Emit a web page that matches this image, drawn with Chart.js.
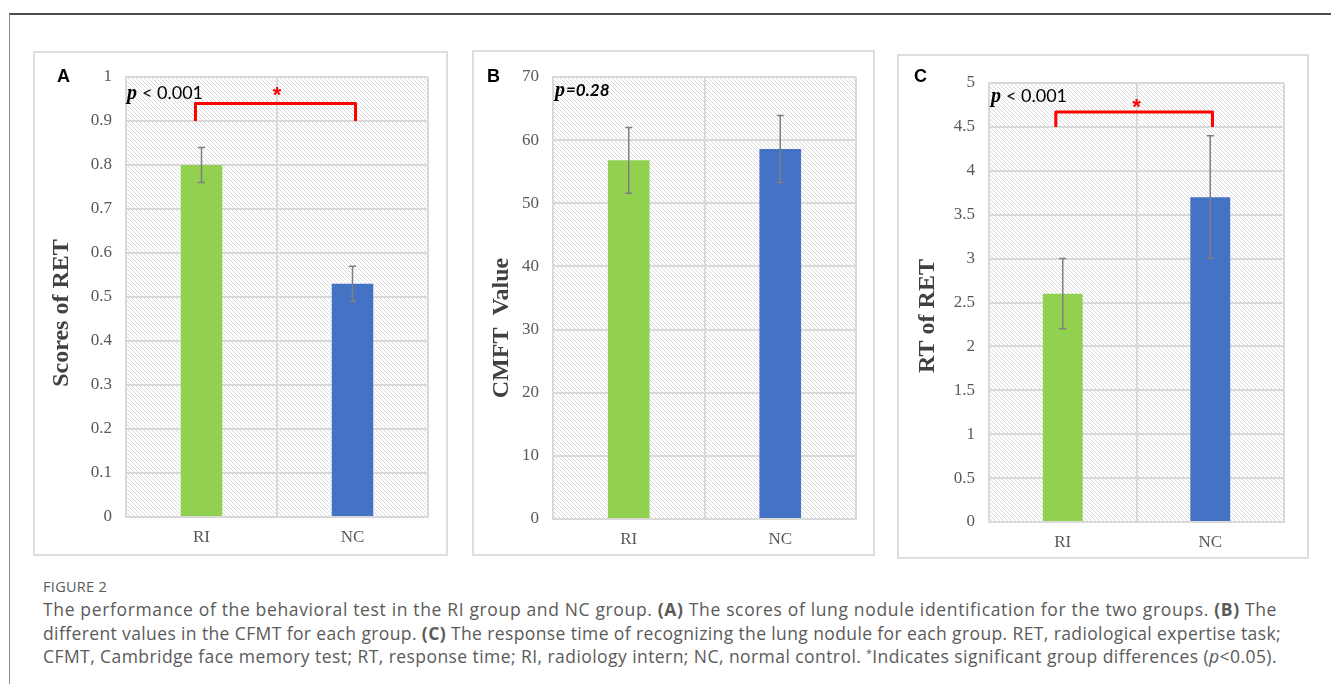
<!DOCTYPE html>
<html><head><meta charset="utf-8">
<script src="https://cdn.jsdelivr.net/npm/chart.js@4.4.1/dist/chart.umd.min.js"></script>
<style>
html,body{margin:0;padding:0;background:#fff;width:1331px;height:684px;overflow:hidden;position:relative;}
#frame{position:absolute;left:9px;top:13px;width:1400px;height:700px;border-top:2px solid #4d4d4d;border-left:1px solid #8a8a8a;}
.panel{position:absolute;}
.panel .box{position:absolute;left:0;top:0;right:0;bottom:0;border:2px solid #dedede;}
.panel canvas{position:absolute;left:0;top:0;}
.letter{position:absolute;font:bold 18px "Liberation Sans",Arial,sans-serif;color:#000;line-height:18px;}
.cap{position:absolute;left:43px;font-family:"Open Sans",sans-serif;color:#5a5a5a;white-space:nowrap;}
.cl{font-size:17.5px;line-height:23.5px;letter-spacing:0.5px;}
#fig{font-size:14.5px;line-height:18px;letter-spacing:0.3px;}
sup{font-size:10px;vertical-align:6px;line-height:0;}
</style></head>
<body>
<div id="frame"></div>

<div class="panel" id="pA" style="left:33px;top:51px;width:415px;height:505px;"><div class="box"></div><canvas id="cA" width="415" height="505"></canvas></div>
<div class="panel" id="pB" style="left:472px;top:50px;width:403px;height:506px;"><div class="box"></div><canvas id="cB" width="403" height="506"></canvas></div>
<div class="panel" id="pC" style="left:897px;top:54px;width:412px;height:505px;"><div class="box"></div><canvas id="cC" width="412" height="505"></canvas></div>

<div class="letter" style="left:57px;top:67px;">A</div>
<div class="letter" style="left:487px;top:67px;">B</div>
<div class="letter" style="left:914px;top:67px;">C</div>

<div class="cap" id="fig" style="top:578px;">FIGURE 2</div>
<div class="cap cl" data-w="1234" style="top:598px;">The performance of the behavioral test in the RI group and NC group. <b>(A)</b> The scores of lung nodule identification for the two groups. <b>(B)</b> The</div>
<div class="cap cl" data-w="1238" style="top:621.5px;">different values in the CFMT for each group. <b>(C)</b> The response time of recognizing the lung nodule for each group. RET, radiological expertise task;</div>
<div class="cap cl" data-w="1234" style="top:645px;">CFMT, Cambridge face memory test; RT, response time; RI, radiology intern; NC, normal control. <sup>*</sup>Indicates significant group differences (<i>p</i>&lt;0.05).</div>

<script>
// ---- data ----
const categories = ['RI', 'NC'];
const scoresRET = [0.80, 0.53];
const scoresRETErr = [0.04, 0.04];
const cmftValue = [56.8, 58.6];
const cmftErr = [5.2, 5.3];
const rtRET = [2.6, 3.7];
const rtRETErr = [0.4, 0.7];
const ticksA = [0, 0.1, 0.2, 0.3, 0.4, 0.5, 0.6, 0.7, 0.8, 0.9, 1];
const tickLabelsA = ['0', '0.1', '0.2', '0.3', '0.4', '0.5', '0.6', '0.7', '0.8', '0.9', '1'];
const ticksB = [0, 10, 20, 30, 40, 50, 60, 70];
const tickLabelsB = ['0', '10', '20', '30', '40', '50', '60', '70'];
const ticksC = [0, 0.5, 1, 1.5, 2, 2.5, 3, 3.5, 4, 4.5, 5];
const tickLabelsC = ['0', '0.5', '1', '1.5', '2', '2.5', '3', '3.5', '4', '4.5', '5'];
const yTitles = ['Scores of RET', 'CMFT  Value', 'RT of RET'];
const pTexts = [['p', '< 0.001'], ['p', '=0.28'], ['p', '< 0.001']];

// ---- fit caption line widths ----
document.querySelectorAll('.cl').forEach(el => {
  const target = +el.dataset.w;
  const n = el.textContent.length;
  const w = el.getBoundingClientRect().width;
  const ls = 0.5 + (target - w) / n;
  el.style.letterSpacing = ls.toFixed(3) + 'px';
});

// ---- style ----
const GRID = '#d9d9d9';
const TICK = '#595959';
const SERIF = '"Liberation Serif","Times New Roman",serif';
const BAR_COLORS = ['#92d050', '#4472c4'];

function makePattern() {
  const c = document.createElement('canvas');
  c.width = 4; c.height = 4;
  const g = c.getContext('2d');
  g.fillStyle = '#ffffff'; g.fillRect(0, 0, 4, 4);
  g.strokeStyle = '#dadada'; g.lineWidth = 1;
  g.beginPath(); g.moveTo(-1, -1); g.lineTo(5, 5); g.stroke();
  g.beginPath(); g.moveTo(-1, 3); g.lineTo(1, 5); g.stroke();
  g.beginPath(); g.moveTo(3, -1); g.lineTo(5, 1); g.stroke();
  return c;
}
const patCanvas = makePattern();

const hatchPlugin = {
  id: 'hatch',
  beforeDraw(chart) {
    const {ctx, chartArea: a} = chart;
    ctx.save();
    ctx.fillStyle = ctx.createPattern(patCanvas, 'repeat');
    ctx.fillRect(a.left, a.top, a.right - a.left, a.bottom - a.top);
    ctx.restore();
  }
};

const errPlugin = {
  id: 'err',
  afterDatasetsDraw(chart, args, opts) {
    const {ctx} = chart;
    const y = chart.scales.y;
    const meta = chart.getDatasetMeta(0);
    const vals = chart.data.datasets[0].data;
    ctx.save();
    ctx.strokeStyle = '#7f7f7f'; ctx.lineWidth = 1.5;
    meta.data.forEach((bar, i) => {
      const t = y.getPixelForValue(vals[i] + opts.err[i]);
      const b = y.getPixelForValue(vals[i] - opts.err[i]);
      ctx.beginPath();
      ctx.moveTo(bar.x, t); ctx.lineTo(bar.x, b);
      ctx.moveTo(bar.x - 3.5, t); ctx.lineTo(bar.x + 3.5, t);
      ctx.moveTo(bar.x - 3.5, b); ctx.lineTo(bar.x + 3.5, b);
      ctx.stroke();
    });
    ctx.restore();
  }
};

const annoPlugin = {
  id: 'anno',
  afterDraw(chart, args, o) {
    const {ctx} = chart;
    const xs = chart.scales.x, ys = chart.scales.y;
    ctx.save();
    // y title
    ctx.translate(o.titleX, o.titleY);
    ctx.rotate(-Math.PI / 2);
    ctx.fillStyle = '#404040';
    ctx.font = 'bold 24px ' + SERIF;
    ctx.textAlign = 'center'; ctx.textBaseline = 'middle';
    ctx.fillText(o.title, 0, 0);
    ctx.restore();
    // p value
    ctx.save();
    ctx.fillStyle = '#000';
    ctx.textBaseline = 'alphabetic'; ctx.textAlign = 'left';
    ctx.font = 'italic bold 20px ' + SERIF;
    ctx.fillText(o.p[0], o.pX, o.pY);
    ctx.font = (o.pItalic ? 'italic bold ' : '') + o.pSize + 'px Lato, "Open Sans", sans-serif';
    ctx.fillText(o.p[1], o.pX + o.pGap, o.pY);
    ctx.restore();
    // bracket
    if (o.bracket) {
      const br = o.bracket;
      const x0 = xs.getPixelForValue(br.from), x1 = xs.getPixelForValue(br.to);
      const yt = ys.getPixelForValue(br.top), yb = ys.getPixelForValue(br.bottom);
      ctx.save();
      ctx.strokeStyle = '#ff0000'; ctx.lineWidth = 3; ctx.lineJoin = 'round'; ctx.lineCap = 'butt';
      ctx.beginPath();
      ctx.moveTo(x0, yb); ctx.lineTo(x0, yt); ctx.lineTo(x1, yt); ctx.lineTo(x1, yb);
      ctx.stroke();
      // asterisk
      ctx.fillStyle = '#ff0000';
      ctx.font = 'bold 22px "Liberation Sans", Arial, sans-serif';
      const m = ctx.measureText('*');
      const ax = xs.getPixelForValue(br.starX), ay = ys.getPixelForValue(br.starY);
      ctx.textAlign = 'center'; ctx.textBaseline = 'alphabetic';
      ctx.fillText('*', ax, ay + (m.actualBoundingBoxAscent - m.actualBoundingBoxDescent) / 2);
      ctx.restore();
    }
  }
};

function makePanel(id, values, errs, ticks, tickLabels, L, anno) {
  return new Chart(document.getElementById(id), {
    type: 'bar',
    data: {
      labels: categories,
      datasets: [{data: values, backgroundColor: BAR_COLORS, borderWidth: 0,
        barPercentage: L.barPct, categoryPercentage: 1}]
    },
    options: {
      responsive: false, animation: false, devicePixelRatio: 1,
      layout: {padding: {left: 0, top: L.top, right: L.right, bottom: 0}},
      plugins: {legend: {display: false}, tooltip: {enabled: false}, err: {err: errs}, anno: anno},
      scales: {
        x: {
          grid: {color: GRID, lineWidth: 2, drawTicks: false, offset: true},
          border: {color: GRID, width: 2},
          ticks: {font: {family: SERIF, size: 17}, color: TICK, padding: 10},
          afterFit: s => { s.height = L.bottom; }
        },
        y: {
          min: ticks[0], max: ticks[ticks.length - 1],
          grid: {color: GRID, lineWidth: 2, drawTicks: false},
          border: {color: GRID, width: 2},
          ticks: {font: {family: SERIF, size: 17}, color: TICK, padding: 14,
            callback: (v, i) => tickLabels[i]},
          afterBuildTicks: s => { s.ticks = ticks.map(v => ({value: v})); },
          afterFit: s => { s.width = L.left; }
        }
      }
    },
    plugins: [hatchPlugin, errPlugin, annoPlugin]
  });
}

makePanel('cA', scoresRET, scoresRETErr, ticksA, tickLabelsA,
  {left: 93, top: 26, right: 20, bottom: 39, barPct: 0.275},
  {title: yTitles[0], titleX: 29, titleY: 262, p: pTexts[0], pX: 94, pY: 47.5, pGap: 15, pSize: 18, pItalic: false,
   bracket: {from: -0.04, to: 1.02, top: 0.94, bottom: 0.9, starX: 0.5, starY: 0.967}});
makePanel('cB', cmftValue, cmftErr, ticksB, tickLabelsB,
  {left: 81, top: 27, right: 19, bottom: 37, barPct: 0.275},
  {title: yTitles[1], titleX: 30, titleY: 278, p: pTexts[1], pX: 83, pY: 45.7, pGap: 11, pSize: 17, pItalic: true});
makePanel('cC', rtRET, rtRETErr, ticksC, tickLabelsC,
  {left: 92, top: 29, right: 25, bottom: 37, barPct: 0.27},
  {title: yTitles[2], titleX: 31, titleY: 262, p: pTexts[2], pX: 94, pY: 48.3, pGap: 15, pSize: 18, pItalic: false,
   bracket: {from: -0.047, to: 1.015, top: 4.67, bottom: 4.5, starX: 0.5, starY: 4.766}});
</script>
</body></html>
